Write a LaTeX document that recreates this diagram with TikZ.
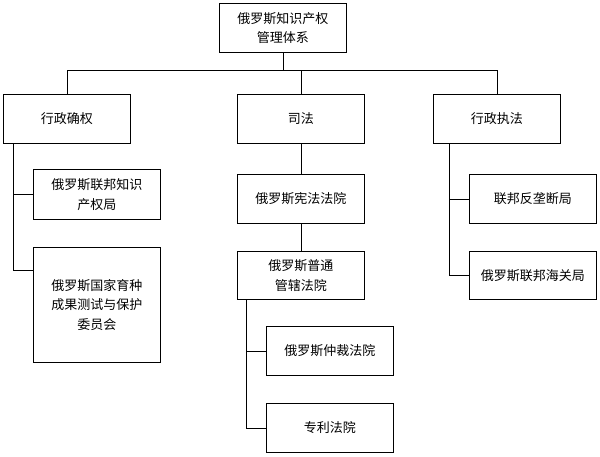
\documentclass[tikz,border=0pt]{standalone}
\usepackage{fontspec}
\setmainfont{Noto Sans CJK SC}

\begin{document}
\begin{tikzpicture}[x=1pt,y=-1pt,
  box/.style={draw,line width=0.8pt,anchor=north west,minimum width=127pt,minimum height=49pt,inner sep=2pt,align=center,font=\fontsize{13}{19.5}\selectfont},
  link/.style={draw,line width=0.8pt}]
% 600 x 456, one unit per pixel
\useasboundingbox (0,0) rectangle (600,456);
\node[box] (tixi) at (219,3) {俄罗斯知识产权\\管理体系};
\node[box] (queren) at (3,94) {行政确权};
\node[box] (sifa) at (237,94) {司法};
\node[box] (zhifa) at (433,94) {行政执法};
\node[box,minimum height=50pt] (zscq) at (33,169) {俄罗斯联邦知识\\产权局};
\node[box,minimum height=115pt] (yuzhong) at (33,247) {俄罗斯国家育种\\成果测试与保护\\委员会};
\node[box] (xianfa) at (237,174) {俄罗斯宪法法院};
\node[box,minimum height=48pt] (putong) at (237,251) {俄罗斯普通\\管辖法院};
\node[box] (zhongcai) at (266,326) {俄罗斯仲裁法院};
\node[box] (zhuanli) at (266,403) {专利法院};
\node[box] (fanlong) at (469,174) {联邦反垄断局};
\node[box,minimum height=48pt] (haiguan) at (469,251) {俄罗斯联邦海关局};
% top level
\coordinate (bus) at ([yshift=-18pt]tixi.south);
\draw[link] (tixi.south) -- (bus);
\draw[link] (queren.north) |- (bus) -| (zhifa.north);
\draw[link] (sifa.north) -- (sifa.north |- bus);
% 行政确权
\coordinate (qspine) at ([xshift=10pt]queren.south west);
\draw[link] (qspine) |- (zscq.west);
\draw[link] (qspine) |- ([yshift=-23pt]yuzhong.north west);
% 司法
\draw[link] (sifa.south) -- (xianfa.north);
\draw[link] (xianfa.south) -- (putong.north);
\coordinate (pspine) at ([xshift=9pt]putong.south west);
\draw[link] (pspine) |- (zhongcai.west);
\draw[link] (pspine) |- (zhuanli.west);
% 行政执法
\coordinate (zspine) at ([xshift=16pt]zhifa.south west);
\draw[link] (zspine) |- (fanlong.west);
\draw[link] (zspine) |- (haiguan.west);
\end{tikzpicture}
\end{document}
